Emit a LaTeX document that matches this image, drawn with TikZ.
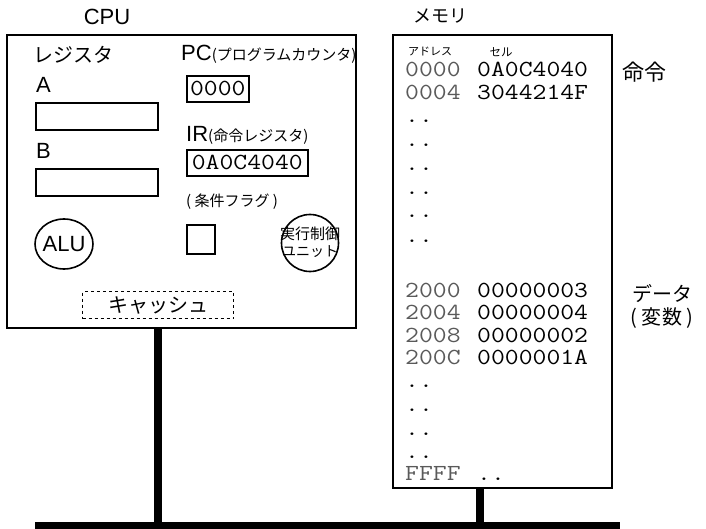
\documentclass[tikz,border=0pt]{standalone}
\usepackage{fontspec}
\usepackage{graphicx}
\setmainfont{Liberation Sans}
\newfontfamily\jp{Noto Sans CJK JP}
\newcommand\monotext[1]{\scalebox{1.17}[1]{\ttfamily\addfontfeature{FakeBold=1}\fontsize{23}{23}\selectfont #1}}
\newcommand\fs[1]{\fontsize{#1}{#1}\selectfont}
\definecolor{addrgray}{HTML}{5A5A5A}
\begin{document}
\begin{tikzpicture}[x=1pt,y=-1pt,
  frame/.style={draw, line width=1.6pt, inner sep=0pt},
  lbl/.style={inner sep=0pt},
  conn/.style={line width=8pt},
  row/.style={inner sep=0pt, anchor=base west}]
\useasboundingbox (0,0) rectangle (706,529);
% CPU
\node[lbl] (cpulbl) at (107,17) {\fs{22}CPU};
\draw[frame] (7,35) rectangle (356,328);
\node[anchor=north west, minimum width=349pt, minimum height=293pt, inner sep=0pt] (cpu) at (7,35) {};
\node[lbl, anchor=west] (reg) at (33,55) {\jp\fs{20}レジスタ};
\node[lbl, anchor=west] (la) at (36,85) {\fs{22}A};
\node[frame, anchor=north west, minimum width=122pt, minimum height=27pt] (ra) at (35,102) {};
\node[lbl, anchor=west] (lb) at (36,151) {\fs{22}B};
\node[frame, anchor=north west, minimum width=122pt, minimum height=27pt] (rb) at (35,168) {};
\node[lbl, anchor=base west] (pclbl) at (181,61) {\fs{22}PC{\jp\fs{15}(プログラムカウンタ)}};
\node[frame, anchor=north west, minimum width=62pt, minimum height=26pt] (pc) at (186,75) {};
\node[lbl] (pcval) at (pc.center) {\monotext{0000}};
\node[lbl, anchor=base west] (irlbl) at (186,142) {\fs{22}IR{\jp\fs{15}(命令レジスタ)}};
\node[frame, anchor=north west, minimum width=121pt, minimum height=26pt] (ir) at (186,149) {};
\node[lbl] (irval) at (ir.center) {\monotext{0A0C4040}};
\node[lbl, anchor=west] (flaglbl) at (186,202) {\jp\fs{15}( 条件フラグ )};
\node[frame, anchor=north west, minimum width=28pt, minimum height=29pt] (flag) at (186,224) {};
\draw[line width=1.6pt] (64,244) ellipse [x radius=29, y radius=25];
\node[lbl] (alu) at (64,244) {\fs{22}ALU};
\draw[line width=1.6pt] (310,243) circle [radius=28.5];
\node[lbl] (exec1) at (310,234) {\jp\fs{15}実行制御};
\node[lbl] (exec2) at (310,252) {\jp\fs{14}ユニット};
\node[draw, dashed, line width=1.4pt, anchor=north west, minimum width=151pt, minimum height=27pt] (cache) at (82,291) {};
\node[lbl] (cachelbl) at (cache.center) {\jp\fs{20}キャッシュ};
% Memory
\node[lbl] (memlbl) at (440,16) {\jp\fs{18}メモリ};
\draw[frame] (393,35) rectangle (612,488);
\node[anchor=north west, minimum width=219pt, minimum height=453pt, inner sep=0pt] (mem) at (393,35) {};
\node[lbl] (addrlbl) at (430,52) {\jp\fs{11}アドレス};
\node[lbl] (celllbl) at (501,52) {\jp\fs{11.5}セル};
\foreach \a/\v/\y in {0000/0A0C4040/77, 0004/3044214F/100, 2000/00000003/297, 2004/00000004/319, 2008/00000002/342, 200C/0000001A/364}{
  \node[row, text=addrgray] (a\y) at (405,\y) {\monotext{\a}};
  \node[row] (v\y) at (477,\y) {\monotext{\v}};
}
\foreach \y in {123,147,171,195,218,243,387,411,435,458}{
  \node[row] (d\y) at (405,\y) {\monotext{..}};
}
\node[row, text=addrgray] (affff) at (405,480) {\monotext{FFFF}};
\node[row] (dffff) at (477,480) {\monotext{..}};
\node[lbl] (inst) at (644,72) {\jp\fs{22}命令};
\node[lbl] (data1) at (662,294) {\jp\fs{20}データ};
\node[lbl] (data2) at (662,318) {\jp\fs{20}( 変数 )};
% Bus
\node[fill=black, anchor=north west, minimum width=585pt, minimum height=8pt, inner sep=0pt] (bus) at (35,522) {};
\coordinate (cpux) at (158,0);
\coordinate (memx) at (480,0);
\draw[conn] (cpu.south -| cpux) -- (bus.north -| cpux);
\draw[conn] (mem.south -| memx) -- (bus.north -| memx);
\end{tikzpicture}
\end{document}
